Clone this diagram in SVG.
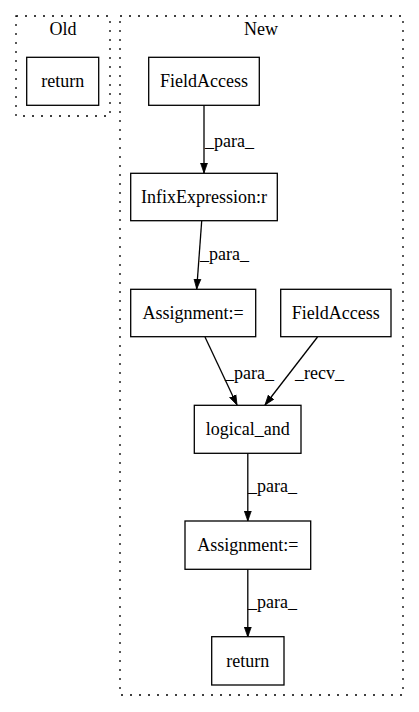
<svg xmlns="http://www.w3.org/2000/svg" width="419" height="712" viewBox="0 0 419 712">
<style>
.cl{fill:none;stroke:#000;stroke-width:1.3;stroke-dasharray:2,7}
.nd{fill:#fff;stroke:#000;stroke-width:1.3}
.t{font-family:"Liberation Serif","Times New Roman",serif;font-size:18px;fill:#000;text-anchor:middle}
.lb{font-family:"Liberation Serif","Times New Roman",serif;font-size:18px;fill:#000}
.e{fill:none;stroke:#000;stroke-width:1.3}
</style>
<defs>
<marker id="ah" markerWidth="10" markerHeight="14" refX="13" refY="4.5" orient="auto" markerUnits="userSpaceOnUse" viewBox="0 0 13 9">
<path d="M0,0 L13,4.5 L0,9 Z" fill="#000" stroke="#000" stroke-width="1"/>
</marker>
</defs>
<rect width="419" height="712" fill="#fff"/>
<g id="cluster_old">
<rect class="cl" x="16" y="16" width="94" height="100"/>
<text class="t" x="63" y="35">Old</text>
</g>
<g id="cluster_new">
<rect class="cl" x="120" y="16" width="283" height="679"/>
<text class="t" x="261" y="35">New</text>
</g>
<g id="edges">
<path class="e" d="M204,105 L204,173" marker-end="url(#ah)"/>
<text class="lb" x="205" y="147">_para_</text>
<path class="e" d="M201.7,221 L196.7,289" marker-end="url(#ah)"/>
<text class="lb" x="200" y="260">_para_</text>
<path class="e" d="M205,337 L237,405" marker-end="url(#ah)"/>
<text class="lb" x="225" y="379">_para_</text>
<path class="e" d="M317.5,337 L265,405" marker-end="url(#ah)"/>
<text class="lb" x="295" y="379">_recv_</text>
<path class="e" d="M247.8,453 L247.8,521" marker-end="url(#ah)"/>
<text class="lb" x="248" y="492">_para_</text>
<path class="e" d="M247.8,569 L247.8,637" marker-end="url(#ah)"/>
<text class="lb" x="248" y="608">_para_</text>
</g>
<g id="old_return">
<rect class="nd" x="26.7" y="57.3" width="72" height="48"/>
<text class="t" x="62.7" y="87">return</text>
</g>
<g id="fieldaccess1">
<rect class="nd" x="148.7" y="57.3" width="110.6" height="48"/>
<text class="t" x="204" y="87">FieldAccess</text>
</g>
<g id="infix">
<rect class="nd" x="130.7" y="173.3" width="146.6" height="47.4"/>
<text class="t" x="204" y="203">InfixExpression:r</text>
</g>
<g id="assignment1">
<rect class="nd" x="130.7" y="289.3" width="125" height="47.4"/>
<text class="t" x="193.2" y="319">Assignment:=</text>
</g>
<g id="fieldaccess2">
<rect class="nd" x="280.7" y="289.3" width="110.3" height="47.4"/>
<text class="t" x="335.8" y="319">FieldAccess</text>
</g>
<g id="logical_and">
<rect class="nd" x="194.3" y="405.3" width="106.7" height="48"/>
<text class="t" x="247.7" y="435">logical_and</text>
</g>
<g id="assignment2">
<rect class="nd" x="185" y="521" width="125.7" height="48.3"/>
<text class="t" x="247.8" y="551">Assignment:=</text>
</g>
<g id="new_return">
<rect class="nd" x="211.7" y="636.7" width="72.3" height="48.3"/>
<text class="t" x="247.8" y="667">return</text>
</g>
</svg>
